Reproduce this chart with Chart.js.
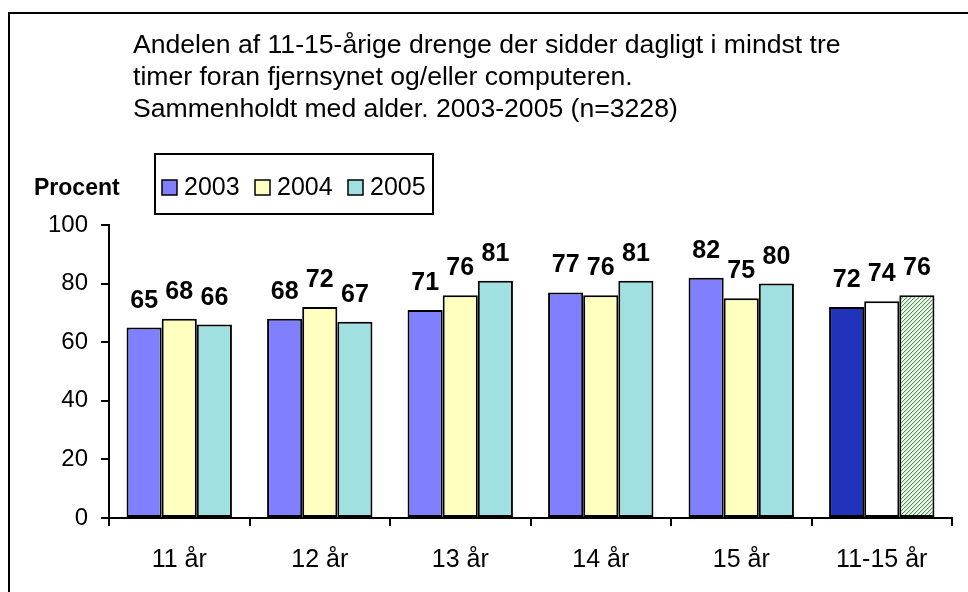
<!DOCTYPE html>
<html lang="da">
<head>
    <meta charset="UTF-8">
    <title>Andelen af 11-15-årige drenge foran skærmen</title>
    <script src="https://cdn.jsdelivr.net/npm/chart.js"></script>
    <style>
        body { margin: 0; background: #fff; }
    </style>
</head>
<body>
    <canvas id="skaerm" width="968" height="592"></canvas>

    <script>
        // Data
        const kategorier = ['11 år', '12 år', '13 år', '14 år', '15 år', '11-15 år'];
        const aar = ['2003', '2004', '2005'];
        const v2003 = [65, 68, 71, 77, 82, 72];
        const v2004 = [68, 72, 76, 76, 75, 74];
        const v2005 = [66, 67, 81, 81, 80, 76];
        const yTicks = [0, 20, 40, 60, 80, 100];
        const titelLinjer = [
            'Andelen af 11-15-årige drenge der sidder dagligt i mindst tre',
            'timer foran fjernsynet og/eller computeren.',
            'Sammenholdt med alder. 2003-2005 (n=3228)'
        ];

        const FONT = '"Liberation Sans", Arial, sans-serif';
        const ctx = document.getElementById('skaerm').getContext('2d');

        // skraveret grøn til totalsøjlen for 2005
        function skravering() {
            const c = document.createElement('canvas');
            c.width = 4; c.height = 4;
            const g = c.getContext('2d');
            g.fillStyle = '#ffffff';
            g.fillRect(0, 0, 4, 4);
            for (let i = 0; i < 4; i++) {
                g.fillStyle = '#3f9f3f';
                g.fillRect(i, 3 - i, 1, 1);
                g.fillStyle = '#c4e6c4';
                g.fillRect((i + 1) % 4, 3 - i, 1, 1);
            }
            return ctx.createPattern(c, 'repeat');
        }

        const basisFarver = ['#8080ff', '#ffffc0', '#a0e0e0'];
        const totalFarver = ['#2233bb', '#ffffff', skravering()];

        function farver(i) {
            return kategorier.map((k, j) => j === kategorier.length - 1 ? totalFarver[i] : basisFarver[i]);
        }

        const serier = [v2003, v2004, v2005];

        // titel, ramme, "Procent" og forklaring
        const tegnTekst = {
            id: 'tegnTekst',
            beforeDraw(chart) {
                const c = chart.ctx;
                c.save();
                c.fillStyle = '#fff';
                c.fillRect(0, 0, chart.width, chart.height);
                c.strokeStyle = '#000';
                c.lineWidth = 2;
                c.strokeRect(9, 13, 1000, 1000);
                c.restore();
            },
            afterDraw(chart) {
                const c = chart.ctx;
                c.save();
                c.fillStyle = '#000';
                c.textBaseline = 'alphabetic';
                c.textAlign = 'left';
                c.font = '26.6px ' + FONT;
                titelLinjer.forEach((t, i) => c.fillText(t, 133, 53 + i * 32));

                c.font = 'bold 23px ' + FONT;
                c.textBaseline = 'middle';
                c.fillText('Procent', 34, 189);

                // forklaringsboks
                c.lineWidth = 2;
                c.strokeStyle = '#000';
                c.strokeRect(155, 154, 278, 60);
                c.font = '25px ' + FONT;
                const xs = [162, 255, 348];
                chart.data.datasets.forEach((ds, i) => {
                    c.fillStyle = basisFarver[i];
                    c.fillRect(xs[i], 180, 15, 15);
                    c.lineWidth = 1.5;
                    c.strokeRect(xs[i], 180, 15, 15);
                    c.fillStyle = '#000';
                    c.fillText(ds.label, xs[i] + 22, 188);
                });
                c.restore();
            },
            afterDatasetsDraw(chart) {
                const c = chart.ctx;
                c.save();
                c.fillStyle = '#000';
                c.font = 'bold 25px ' + FONT;
                c.textAlign = 'center';
                c.textBaseline = 'alphabetic';
                chart.data.datasets.forEach((ds, i) => {
                    chart.getDatasetMeta(i).data.forEach((bar, j) => {
                        c.fillText(ds.data[j], bar.x, bar.y - 20);
                    });
                });
                c.restore();
            }
        };

        new Chart(ctx, {
            type: 'bar',
            data: {
                labels: kategorier,
                datasets: aar.map((a, i) => ({
                    label: a,
                    data: serier[i],
                    backgroundColor: farver(i),
                    borderColor: '#000',
                    borderWidth: 2,
                    borderSkipped: false,
                    categoryPercentage: 0.75,
                    barPercentage: 1
                }))
            },
            options: {
                responsive: false,
                animation: false,
                devicePixelRatio: 1,
                layout: { padding: { left: 0, top: 225, right: 16, bottom: 0 } },
                plugins: {
                    legend: { display: false },
                    tooltip: { enabled: false }
                },
                scales: {
                    x: {
                        afterFit(s) { s.height = 74; },
                        grid: {
                            offset: true,
                            drawOnChartArea: false,
                            drawTicks: true,
                            tickLength: 8,
                            color: '#000',
                            lineWidth: 2
                        },
                        border: { display: true, color: '#000', width: 2 },
                        ticks: {
                            color: '#000',
                            padding: 19,
                            font: { family: FONT, size: 25 }
                        }
                    },
                    y: {
                        min: 0,
                        max: 100,
                        afterFit(s) { s.width = 109; },
                        afterBuildTicks(s) { s.ticks = yTicks.map(v => ({ value: v })); },
                        grid: {
                            drawOnChartArea: false,
                            drawTicks: true,
                            tickLength: 8,
                            color: '#000',
                            lineWidth: 2
                        },
                        border: { display: true, color: '#000', width: 2 },
                        ticks: {
                            color: '#000',
                            padding: 13,
                            font: { family: FONT, size: 24 }
                        }
                    }
                }
            },
            plugins: [tegnTekst]
        });
    </script>
</body>
</html>
